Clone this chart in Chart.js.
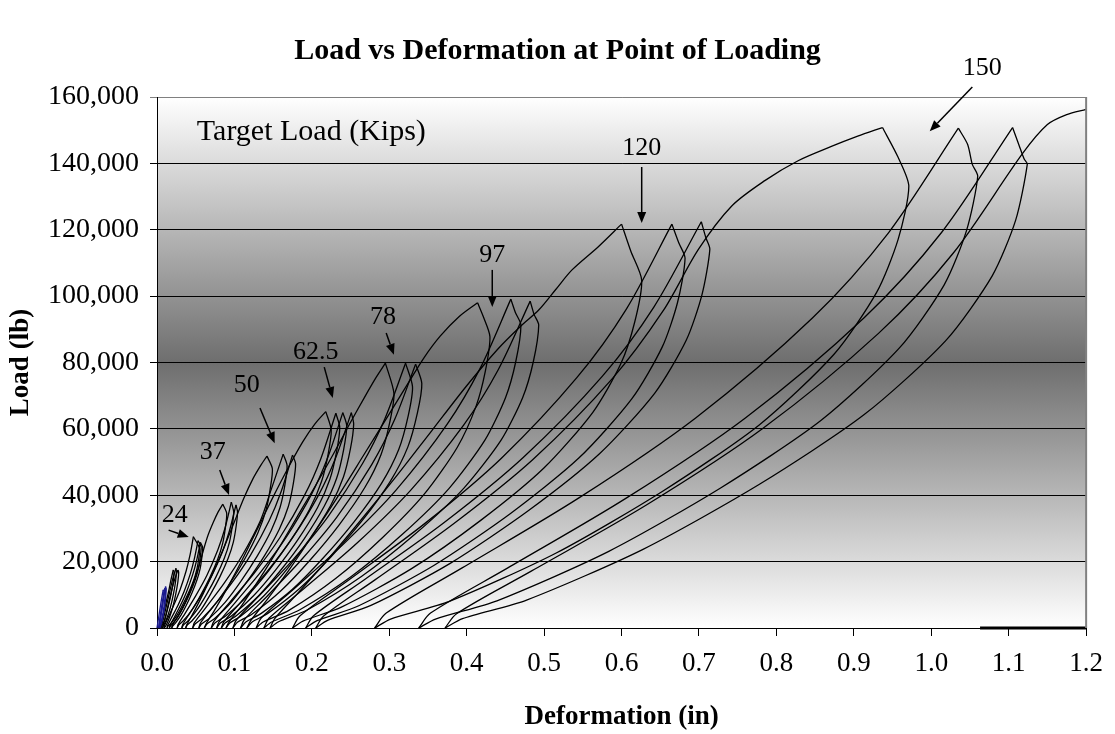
<!DOCTYPE html>
<html>
<head>
<meta charset="utf-8">
<title>Load vs Deformation at Point of Loading</title>
<script src="https://cdn.jsdelivr.net/npm/chart.js@4/dist/chart.umd.min.js"></script>
<style>
  html, body { margin: 0; padding: 0; background: #ffffff; }
  #wrap { width: 1115px; height: 734px; }
</style>
</head>
<body>
<div id="wrap"><canvas id="c" width="1115" height="734"></canvas></div>
<script>
// Load (lb) against deformation (in); each cycle is [deformation, load] pairs:
// reload from residual set, peak at the target load, hold drop, unload.
const loops12 = [
  [[0,0],[0.002,3000],[0.005,7500],[0.008,11500],[0.009,11000],[0.007,6500],[0.004,2500],[0.002,0]],
  [[0.002,0],[0.004,3500],[0.007,8000],[0.010,12000],[0.011,11300],[0.009,6500],[0.006,2500],[0.003,0]],
  [[0.003,0],[0.005,3500],[0.008,8000],[0.011,12500],[0.012,11800],[0.010,6500],[0.007,2500],[0.004,0]]
];
const loops17 = [
  [[0.004,0],[0.007,3000],[0.011,7000],[0.015,11000],[0.018,14500],[0.021,17500],[0.022,16800],[0.021,14000],[0.018,10000],[0.014,6000],[0.010,2500],[0.006,500],[0.005,0]],
  [[0.005,0],[0.008,2500],[0.012,6500],[0.016,10500],[0.020,14500],[0.0245,18000],[0.025,17000],[0.024,14000],[0.021,10000],[0.017,6000],[0.012,2500],[0.008,500],[0.007,0]],
  [[0.007,0],[0.010,2500],[0.014,6500],[0.018,10500],[0.022,14000],[0.027,17500],[0.028,16800],[0.027,14000],[0.024,10000],[0.020,6000],[0.015,2500],[0.011,500],[0.009,0]]
];
const loops24 = [
  [[0.009,0],[0.0098,800],[0.0147,3300],[0.0223,7200],[0.0299,11600],[0.0375,17100],[0.0424,21700],[0.047,27500],[0.055,24000],[0.054,21100],[0.0516,17800],[0.0474,14400],[0.0407,10600],[0.0332,7000],[0.0256,3800],[0.018,1400],[0.0143,600],[0.013,0]],
  [[0.013,0],[0.0138,800],[0.019,3200],[0.027,6800],[0.035,11000],[0.043,16300],[0.0482,20800],[0.053,26300],[0.057,24500],[0.056,21600],[0.0537,18100],[0.0496,14700],[0.0431,10800],[0.0357,7100],[0.0283,3900],[0.0209,1500],[0.0172,600],[0.016,0]],
  [[0.016,0],[0.0168,800],[0.022,3100],[0.030,6700],[0.038,10800],[0.046,16000],[0.0512,20400],[0.056,25800],[0.059,24300],[0.058,21400],[0.0558,18000],[0.0518,14600],[0.0454,10700],[0.0382,7000],[0.031,3900],[0.0238,1500],[0.0202,600],[0.019,0]]
];
const loops37 = [
  [[0.019,0],[0.020,900],[0.027,3500],[0.036,7500],[0.045,12500],[0.054,18500],[0.060,23500],[0.066,28000],[0.073,32000],[0.079,35000],[0.085,37300],[0.090,34600],[0.0884,30400],[0.0849,25600],[0.0785,20800],[0.0682,15200],[0.0567,10000],[0.0452,5500],[0.0337,2100],[0.0279,900],[0.026,0]],
  [[0.026,0],[0.0274,1100],[0.0365,4500],[0.0505,9900],[0.0645,15900],[0.0785,23500],[0.0876,29900],[0.096,37900],[0.099,35000],[0.0973,30800],[0.0936,25900],[0.0869,21000],[0.0762,15400],[0.0642,10200],[0.0521,5600],[0.040,2100],[0.034,900],[0.032,0]],
  [[0.032,0],[0.0334,1100],[0.0425,4500],[0.0565,9600],[0.0705,15600],[0.0845,23000],[0.0936,29300],[0.102,37100],[0.104,35000],[0.1023,30800],[0.0986,25900],[0.0919,21000],[0.0812,15400],[0.0692,10200],[0.0571,5600],[0.045,2100],[0.039,900],[0.037,0]]
];
const loops50 = [
  [[0.037,0],[0.039,1200],[0.048,5000],[0.060,10500],[0.073,17000],[0.087,24500],[0.100,32000],[0.112,39000],[0.124,45000],[0.134,49000],[0.142,51800],[0.149,48000],[0.1464,42200],[0.1408,35500],[0.1305,28800],[0.114,21100],[0.0954,13900],[0.0769,7700],[0.0584,2900],[0.0491,1200],[0.046,0]],
  [[0.046,0],[0.0483,1600],[0.0636,6300],[0.087,13600],[0.1104,22000],[0.1338,32500],[0.147,41400],[0.163,52400],[0.168,49000],[0.1652,43100],[0.1589,36300],[0.1475,29400],[0.1292,21600],[0.1087,14200],[0.0882,7800],[0.0677,2900],[0.0574,1200],[0.054,0]],
  [[0.054,0],[0.0564,1600],[0.0722,6300],[0.0964,13500],[0.1206,21900],[0.1448,32300],[0.1605,41200],[0.175,52100],[0.179,49500],[0.1761,43600],[0.1696,36600],[0.1578,29700],[0.1389,21800],[0.1176,14400],[0.0964,7900],[0.0752,3000],[0.0645,1200],[0.061,0]]
];
const loops62 = [
  [[0.061,0],[0.064,1500],[0.076,6000],[0.093,13000],[0.111,21000],[0.130,30000],[0.150,39500],[0.170,48500],[0.188,56000],[0.204,61500],[0.218,65200],[0.225,59700],[0.2211,52500],[0.2126,44200],[0.1971,35800],[0.1723,26300],[0.1444,17300],[0.1165,9600],[0.0886,3600],[0.0747,1500],[0.070,0]],
  [[0.070,0],[0.0732,1900],[0.0942,7800],[0.1264,16800],[0.1586,27200],[0.1908,40100],[0.2117,51100],[0.231,64700],[0.236,60500],[0.232,53200],[0.2233,44800],[0.2074,36300],[0.182,26600],[0.1533,17500],[0.1247,9700],[0.0961,3600],[0.0818,1500],[0.077,0]],
  [[0.077,0],[0.0803,1900],[0.1015,7800],[0.1341,16900],[0.1667,27300],[0.1993,40200],[0.2204,51300],[0.240,64900],[0.245,61000],[0.241,53700],[0.232,45100],[0.2158,36600],[0.1899,26800],[0.1608,17700],[0.1316,9800],[0.1024,3700],[0.0879,1500],[0.083,0]],
  [[0.083,0],[0.0864,1900],[0.1082,7800],[0.1418,16900],[0.1754,27300],[0.209,40200],[0.2308,51300],[0.251,64900],[0.254,61500],[0.2499,54100],[0.2408,45500],[0.2243,36900],[0.1979,27100],[0.1682,17800],[0.1385,9800],[0.1088,3700],[0.094,1500],[0.089,0]]
];
const loops78 = [
  [[0.089,0],[0.093,1800],[0.110,7000],[0.133,15000],[0.157,24000],[0.181,33500],[0.205,43000],[0.228,52500],[0.250,62000],[0.268,69500],[0.283,75500],[0.295,79800],[0.306,70700],[0.3008,62200],[0.2894,52300],[0.2686,42400],[0.2353,31100],[0.1978,20500],[0.1604,11300],[0.123,4200],[0.1042,1800],[0.098,0]],
  [[0.098,0],[0.1025,2400],[0.1315,9600],[0.176,20700],[0.2207,33500],[0.2653,49500],[0.2942,63000],[0.321,79800],[0.330,72700],[0.3245,64000],[0.3122,53800],[0.290,43600],[0.2545,32000],[0.2146,21100],[0.1746,11600],[0.1346,4400],[0.1147,1800],[0.108,0]],
  [[0.108,0],[0.1125,2400],[0.1419,9500],[0.1871,20700],[0.2323,33400],[0.2775,49300],[0.3069,62800],[0.334,79500],[0.342,73700],[0.3364,64900],[0.3239,54500],[0.3013,44200],[0.2652,32400],[0.2245,21400],[0.1838,11800],[0.1431,4400],[0.1228,1800],[0.116,0]]
];
const loops97 = [
  [[0.116,0],[0.121,2200],[0.142,8500],[0.172,18000],[0.204,29000],[0.236,40500],[0.268,52500],[0.300,64500],[0.325,74000],[0.345,81500],[0.366,88000],[0.390,93800],[0.414,98000],[0.422,93500],[0.430,87800],[0.424,77300],[0.4119,66700],[0.3877,54400],[0.3454,40400],[0.2911,27200],[0.2307,14900],[0.1703,5300],[0.1371,1800],[0.128,0]],
  [[0.128,0],[0.1346,3000],[0.1774,11900],[0.2432,25800],[0.309,41600],[0.3748,61400],[0.4175,78300],[0.457,99100],[0.463,95000],[0.470,91300],[0.4634,80300],[0.4501,69400],[0.4235,56600],[0.377,42000],[0.3173,28300],[0.2509,15500],[0.1845,5500],[0.148,1800],[0.138,0]],
  [[0.138,0],[0.1449,3000],[0.1896,11800],[0.2584,25600],[0.3272,41400],[0.396,61100],[0.4407,77800],[0.482,98500],[0.487,94500],[0.493,91300],[0.4861,80300],[0.4722,69400],[0.4444,56600],[0.3958,42000],[0.3334,28300],[0.264,15500],[0.1946,5500],[0.1564,1800],[0.146,0]]
];
const loops120 = [
  [[0.146,0],[0.152,2800],[0.180,10000],[0.220,20500],[0.265,33000],[0.310,46000],[0.355,59500],[0.400,73000],[0.440,84000],[0.470,91000],[0.493,95800],[0.515,102000],[0.536,107900],[0.570,114900],[0.600,121700],[0.612,113500],[0.626,104800],[0.617,92200],[0.599,79600],[0.5629,65000],[0.4997,48200],[0.4185,32500],[0.3283,17800],[0.2381,6300],[0.1885,2100],[0.175,0]],
  [[0.175,0],[0.1848,3700],[0.2485,14600],[0.3465,31600],[0.4445,51100],[0.5425,75500],[0.6062,96100],[0.665,121700],[0.674,116000],[0.682,111400],[0.6722,98000],[0.6526,84700],[0.6134,69100],[0.5448,51200],[0.4566,34500],[0.358,18900],[0.2606,6700],[0.2067,2200],[0.192,0]],
  [[0.192,0],[0.2022,3700],[0.2687,14700],[0.3709,31800],[0.473,51400],[0.5753,75900],[0.6417,96700],[0.703,122400],[0.709,117500],[0.714,114100],[0.7038,100400],[0.6835,86700],[0.6427,70700],[0.5715,52500],[0.4799,35400],[0.3781,19400],[0.2763,6800],[0.2203,2300],[0.205,0]]
];
const loops150 = [
  [[0.205,0],[0.2152,3600],[0.2815,14500],[0.3835,31500],[0.4855,50800],[0.5875,75000],[0.6538,95600],[0.699,114000],[0.742,127100],[0.785,134800],[0.828,140800],[0.871,145100],[0.905,148200],[0.937,150800],[0.957,141900],[0.971,133100],[0.9572,117100],[0.9296,101200],[0.8744,82500],[0.7778,61200],[0.6536,41300],[0.5156,22600],[0.3776,8000],[0.3017,2700],[0.281,0]],
  [[0.281,0],[0.2961,4500],[0.3941,18100],[0.5449,39200],[0.6957,63300],[0.8465,93400],[0.9445,119000],[1.035,150600],[1.047,145700],[1.053,139700],[1.060,136100],[1.0456,119800],[1.0167,103400],[0.9589,84400],[0.8578,62600],[0.7279,42200],[0.5835,23100],[0.4391,8200],[0.3597,2700],[0.338,0]],
  [[0.338,0],[0.3533,4500],[0.4531,18100],[0.6065,39200],[0.7599,63300],[0.9133,93500],[1.013,119100],[1.105,150800],[1.113,145700],[1.120,141300],[1.124,139700],[1.109,122900],[1.0789,106200],[1.0187,86600],[0.9134,64300],[0.7781,43300],[0.6277,23700],[0.4773,8400],[0.3946,2800],[0.372,0]],
  [[0.372,0],[0.3869,4300],[0.4839,17200],[0.6331,37200],[0.7823,60100],[0.9315,88700],[1.0285,113000],[1.118,143000],[1.150,151700],[1.175,154700],[1.2,156300]]
];
const restTrace = [[1.063,0],[1.2,0]];

// Axis ticks
const xTicks = [0,0.1,0.2,0.3,0.4,0.5,0.6,0.7,0.8,0.9,1.0,1.1,1.2];
const yTicks = [0,20000,40000,60000,80000,100000,120000,140000,160000];

// Target-load callouts
const calloutText = ['150','120','97','78','62.5','50','37','24'];
const calloutAt   = [[1.066,168700],[0.626,144600],[0.433,112400],[0.292,93700],[0.205,83200],[0.116,73200],[0.072,53000],[0.023,34000]];
const arrowFrom   = [[1.053,163000],[0.626,138900],[0.433,107900],[0.296,88900],[0.216,78600],[0.133,66300],[0.081,47600],[0.015,29500]];
const arrowTo     = [[0.998,149700],[0.626,122000],[0.433,96700],[0.306,82300],[0.227,69300],[0.152,55700],[0.093,40100],[0.041,27400]];
const boxCaption = 'Target Load (Kips)';
const boxCaptionAt = [0.0515, 149500];
const chartTitle = 'Load vs Deformation at Point of Loading';

const SERIF = '"Liberation Serif", "Times New Roman", serif';

const groups = [
  { cycles: loops12, color: '#1b1b8f' },
  { cycles: loops17, color: '#000000' },
  { cycles: loops24, color: '#000000' },
  { cycles: loops37, color: '#000000' },
  { cycles: loops50, color: '#000000' },
  { cycles: loops62, color: '#000000' },
  { cycles: loops78, color: '#000000' },
  { cycles: loops97, color: '#000000' },
  { cycles: loops120, color: '#000000' },
  { cycles: loops150, color: '#000000' }
];

function lineSet(pts, color, width, tension) {
  return {
    data: pts.map(p => ({ x: p[0], y: p[1] })),
    showLine: true,
    borderColor: color,
    backgroundColor: color,
    borderWidth: width,
    pointRadius: 0,
    pointHoverRadius: 0,
    tension: tension,
    fill: false,
    clip: 3
  };
}

const datasets = [];
groups.forEach(g => {
  g.cycles.forEach(cyc => {
    // split each cycle at its peak load so the loading and unloading
    // branches are smoothed separately and the peak stays sharp
    let k = 0;
    cyc.forEach((p, i) => { if (p[1] > cyc[k][1]) k = i; });
    datasets.push(lineSet(cyc.slice(0, k + 1), g.color, 1.3, 0.3));
    if (k < cyc.length - 1) datasets.push(lineSet(cyc.slice(k), g.color, 1.3, 0.25));
  });
});
datasets.push(lineSet(restTrace, '#000000', 3, 0));

const backdrop = {
  id: 'backdrop',
  beforeDraw(chart) {
    const { ctx, chartArea: a } = chart;
    const g = ctx.createLinearGradient(0, a.top, 0, a.bottom);
    g.addColorStop(0, '#ffffff');
    g.addColorStop(0.5, '#6e6e6e');
    g.addColorStop(1, '#ffffff');
    ctx.save();
    ctx.fillStyle = g;
    ctx.fillRect(a.left, a.top, a.right - a.left, a.bottom - a.top);
    ctx.restore();
  }
};

function drawArrow(ctx, x1, y1, x2, y2) {
  const ang = Math.atan2(y2 - y1, x2 - x1);
  const L = 11, W = 4.5;
  const bx = x2 - L * Math.cos(ang), by = y2 - L * Math.sin(ang);
  ctx.beginPath();
  ctx.moveTo(x1, y1);
  ctx.lineTo(bx, by);
  ctx.stroke();
  ctx.beginPath();
  ctx.moveTo(x2, y2);
  ctx.lineTo(bx - W * Math.sin(ang), by + W * Math.cos(ang));
  ctx.lineTo(bx + W * Math.sin(ang), by - W * Math.cos(ang));
  ctx.closePath();
  ctx.fill();
}

const callouts = {
  id: 'callouts',
  afterDatasetsDraw(chart) {
    const { ctx, chartArea: a, scales: { x, y } } = chart;
    ctx.save();
    // plot frame on the right
    ctx.strokeStyle = '#808080';
    ctx.lineWidth = 2;
    ctx.beginPath();
    ctx.moveTo(a.right, a.top);
    ctx.lineTo(a.right, a.bottom);
    ctx.stroke();

    ctx.fillStyle = '#000';
    ctx.strokeStyle = '#000';
    ctx.lineWidth = 1.5;
    ctx.textBaseline = 'middle';

    // chart title, centred on the whole canvas
    ctx.textAlign = 'center';
    ctx.font = 'bold 30px ' + SERIF;
    ctx.fillText(chartTitle, chart.width / 2, 51);

    ctx.textAlign = 'left';
    ctx.font = '30px ' + SERIF;
    ctx.fillText(boxCaption, x.getPixelForValue(boxCaptionAt[0]), y.getPixelForValue(boxCaptionAt[1]));

    ctx.textAlign = 'center';
    ctx.font = '26px ' + SERIF;
    calloutText.forEach((t, i) => {
      ctx.fillText(t, x.getPixelForValue(calloutAt[i][0]), y.getPixelForValue(calloutAt[i][1]));
      drawArrow(ctx,
        x.getPixelForValue(arrowFrom[i][0]), y.getPixelForValue(arrowFrom[i][1]),
        x.getPixelForValue(arrowTo[i][0]), y.getPixelForValue(arrowTo[i][1]));
    });
    ctx.restore();
  }
};

new Chart(document.getElementById('c'), {
  type: 'scatter',
  data: { datasets },
  options: {
    responsive: false,
    animation: false,
    devicePixelRatio: 1,
    events: [],
    layout: { padding: { left: 0, right: 26, top: 97, bottom: 0 } },
    plugins: {
      legend: { display: false },
      tooltip: { enabled: false },
      title: { display: false }
    },
    scales: {
      x: {
        type: 'linear',
        min: 0,
        max: 1.2,
        afterBuildTicks(scale) { scale.ticks = xTicks.map(v => ({ value: v })); },
        afterFit(scale) { scale.height = 106; },
        ticks: {
          color: '#000',
          font: { family: SERIF, size: 27 },
          padding: 12,
          maxRotation: 0,
          autoSkip: false,
          callback: v => Number(v).toFixed(1)
        },
        grid: { drawOnChartArea: false, drawTicks: true, tickLength: 8, color: '#000', lineWidth: 1 },
        border: { display: true, color: '#000', width: 1 },
        title: {
          display: true,
          text: 'Deformation (in)',
          color: '#000',
          font: { family: SERIF, size: 27, weight: 'bold' },
          padding: { top: 0, bottom: 1 }
        }
      },
      y: {
        type: 'linear',
        min: 0,
        max: 160000,
        afterBuildTicks(scale) { scale.ticks = yTicks.map(v => ({ value: v })); },
        afterFit(scale) { scale.width = 157; },
        ticks: {
          color: '#000',
          font: { family: SERIF, size: 28 },
          padding: 11,
          autoSkip: false,
          callback: v => Number(v).toLocaleString('en-US')
        },
        grid: {
          drawTicks: true,
          tickLength: 7,
          lineWidth: 1,
          color: ctx => (ctx.tick && ctx.tick.value === 160000) ? '#808080' : '#000'
        },
        border: { display: true, color: '#000', width: 1 },
        title: {
          display: true,
          text: 'Load (lb)',
          color: '#000',
          font: { family: SERIF, size: 27, weight: 'bold' },
          padding: { top: 5, bottom: 0 }
        }
      }
    }
  },
  plugins: [backdrop, callouts]
});
</script>
</body>
</html>
